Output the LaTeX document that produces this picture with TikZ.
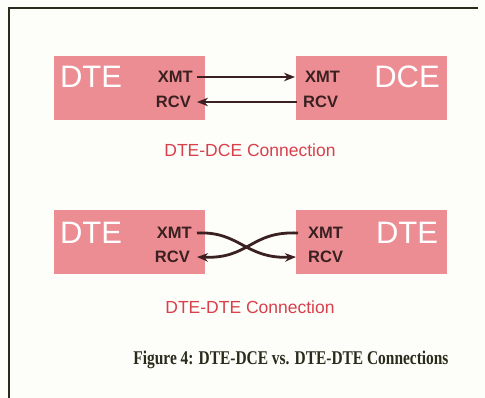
\documentclass[tikz,border=0pt]{standalone}
\usepackage{fontspec}
\setmainfont{Liberation Serif}
\newfontfamily\arial{Liberation Sans}
\usetikzlibrary{arrows.meta}
\definecolor{boxpink}{HTML}{EC8D93}
\definecolor{labred}{HTML}{D8404C}
\definecolor{frame}{HTML}{2B2B1C}
\definecolor{dark}{HTML}{3A2020}
\definecolor{paper}{HTML}{FDFDF9}
\begin{document}
\begin{tikzpicture}[x=1pt,y=-1pt,
  devbox/.style={fill=boxpink,draw=none,minimum width=151pt,minimum height=64pt,inner sep=0pt},
  bigtxt/.style={text=white,font=\arial\fontsize{31}{31}\selectfont,inner sep=0pt,anchor=center},
  sig/.style={text=dark,font=\arial\bfseries\fontsize{16.5}{16.5}\selectfont,inner sep=0pt},
  conn/.style={draw=dark,line width=2.8pt,-{Stealth[length=11pt,width=8.5pt]}},
  lab/.style={text=labred,font=\arial\fontsize{17.5}{17.5}\selectfont,inner sep=0pt}]
\useasboundingbox (0,0) rectangle (485,398);
\fill[paper] (0,0) rectangle (485,398);
\draw[frame,line width=2pt] (9,398) -- (9,8) -- (478,8);
% top row
\node[devbox] (b1) at (129.5,88) {};
\node[devbox] (b2) at (371.5,88) {};
\node[bigtxt] (t1) at (91,77) {DTE};
\node[bigtxt] (t2) at (407,77) {DCE};
\node[sig,anchor=east] (x1) at (193,77) {XMT};
\node[sig,anchor=east] (r1) at (191,102) {RCV};
\node[sig,anchor=west] (x2) at (305,77) {XMT};
\node[sig,anchor=west] (r2) at (303,102) {RCV};
\draw[conn] ([xshift=4pt]x1.east) -- ([xshift=-10pt]x2.west);
\draw[conn] ([xshift=-6pt]r2.west) -- ([xshift=6pt]r1.east);
\node[lab] (l1) at (250,150) {DTE-DCE Connection};
% bottom row
\node[devbox] (b3) at (129.5,242) {};
\node[devbox] (b4) at (371.5,242) {};
\node[bigtxt] (t3) at (91,233) {DTE};
\node[bigtxt] (t4) at (407,233) {DTE};
\node[sig,anchor=east] (x3) at (192,233) {XMT};
\node[sig,anchor=east] (r3) at (190,257) {RCV};
\node[sig,anchor=west] (x4) at (308,233) {XMT};
\node[sig,anchor=west] (r4) at (308,257) {RCV};
\draw[conn] ([xshift=5pt]x3.east) .. controls (240,231) and (245,259) .. ([xshift=-12pt]r4.west);
\draw[conn] ([xshift=-10pt]x4.west) .. controls (250,231) and (250,259) .. ([xshift=7pt]r3.east);
\node[lab] (l2) at (250,307) {DTE-DTE Connection};
\node[text=frame,inner sep=0pt] (cap) at (291,360) {\resizebox{315pt}{13.5pt}{\bfseries\fontsize{18}{18}\selectfont Figure 4: DTE-DCE vs. DTE-DTE Connections}};
\end{tikzpicture}
\end{document}
